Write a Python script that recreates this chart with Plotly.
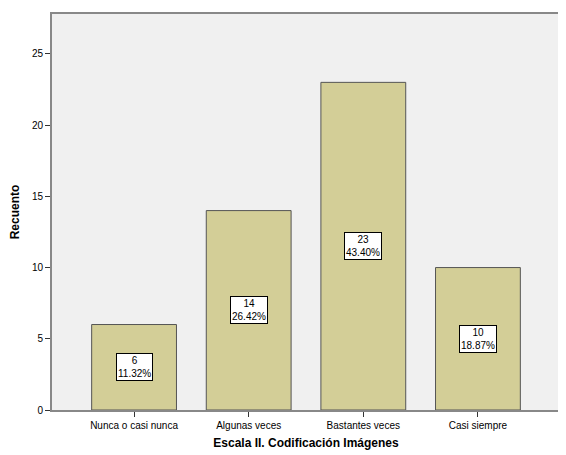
import plotly.graph_objects as go

categories = ["Nunca o casi nunca", "Algunas veces", "Bastantes veces", "Casi siempre"]
counts = [6, 14, 23, 10]
percents = ["11.32%", "26.42%", "43.40%", "18.87%"]
y_ticks = [0, 5, 10, 15, 20, 25]

fig = go.Figure()
fig.add_trace(go.Bar(
    x=list(range(len(categories))), y=counts,
    width=0.74,
    marker=dict(color="#d3ce97", line=dict(color="#555555", width=1)),
    hoverinfo="skip",
))

for i, (c, p) in enumerate(zip(counts, percents)):
    fig.add_annotation(
        x=i, y=c / 2, text=f"{c}<br>{p}", showarrow=False,
        font=dict(family="Arial, Liberation Sans", size=10, color="black"),
        bgcolor="white", bordercolor="black", borderwidth=1, borderpad=1,
        align="center",
    )

# the page body adds an 8px offset, so the figure is sized and margined to compensate
fig.update_layout(
    width=558, height=447,
    margin=dict(l=44, r=6, t=6, b=45, autoexpand=False),
    paper_bgcolor="white", plot_bgcolor="#f0f0f0",
    showlegend=False,
    font=dict(family="Arial, Liberation Sans", size=10, color="black"),
    xaxis=dict(
        range=[-0.716, 3.716], automargin=False,
        tickmode="array", tickvals=list(range(len(categories))), ticktext=categories,
        ticks="outside", ticklen=5, tickcolor="#333333", tickwidth=1,
        showline=True, linecolor="#888888", linewidth=2, mirror=True,
        showgrid=False, zeroline=False,
        title=dict(text="<b>Escala II. Codificación Imágenes</b>", font=dict(size=12), standoff=9),
    ),
    yaxis=dict(
        range=[0, 27.8], automargin=False,
        tickmode="array", tickvals=y_ticks,
        ticks="outside", ticklen=5, tickcolor="#333333", tickwidth=1,
        showline=True, linecolor="#888888", linewidth=2, mirror=True,
        showgrid=False, zeroline=False,
        title=dict(text="<b>Recuento</b>", font=dict(size=12), standoff=11),
    ),
)

fig.write_html("out.html")
